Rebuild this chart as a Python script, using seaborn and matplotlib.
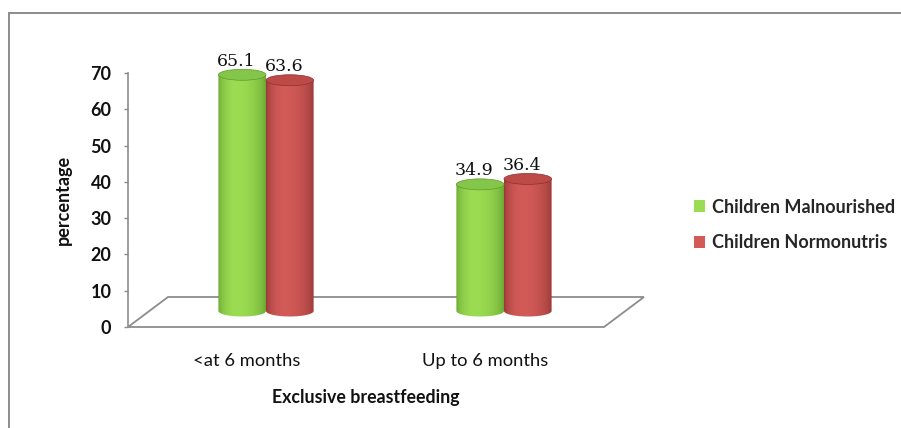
import numpy as np
import pandas as pd
import matplotlib
matplotlib.use("Agg")
import matplotlib.pyplot as plt
import seaborn as sns
from matplotlib.patches import Ellipse, Polygon, PathPatch, Patch
from matplotlib.path import Path
from matplotlib.colors import to_rgb
from matplotlib.lines import Line2D

# ---- data ----
categories = ["<at 6 months", "Up to 6 months"]
malnourished = [65.1, 34.9]
normonutris = [63.6, 36.4]
series_names = ["Children Malnourished", "Children Normonutris"]
y_ticks = [0, 10, 20, 30, 40, 50, 60, 70]

df = pd.DataFrame({
    "category": categories * 2,
    "value": malnourished + normonutris,
    "series": [series_names[0]] * len(categories) + [series_names[1]] * len(categories),
})

# ---- style ----
sns.set_theme(style="white")
plt.rcParams["font.family"] = ["Lato", "DejaVu Sans"]
TEXT = "#111111"
GRID = "#8c8c8c"
green_main, green_dark, green_top = "#9bdc52", "#5f9a2c", "#84c64a"
red_main, red_dark, red_top = "#d25a57", "#8a3230", "#bd4a47"

W, H = 901, 428
fig = plt.figure(figsize=(W / 100, H / 100), dpi=100)


def frac(left, top, w, h):
    return [left / W, 1 - (top + h) / H, w / W, h / H]


# front plane: carries the value axis and the floor outline
PL, PT, PW, PH = 128, 73, 476, 254
ax = fig.add_axes(frac(PL, PT, PW, PH))
ax.set_xlim(-0.5, 1.5)
ax.set_ylim(0, 70)
ax.set_facecolor("none")
for side in ("top", "right", "bottom"):
    ax.spines[side].set_visible(False)
ax.spines["left"].set_color(GRID)
ax.spines["left"].set_linewidth(1.2)
ax.set_yticks(y_ticks)
ax.set_yticklabels([str(t) for t in y_ticks], fontsize=13, fontweight="bold", color=TEXT)
ax.tick_params(axis="y", left=True, length=3, width=1, color=GRID, pad=9)
ax.set_xticks(range(len(categories)))
ax.set_xticklabels(categories, fontsize=13.2, color=TEXT)
ax.tick_params(axis="x", bottom=False, pad=13)
ax.set_xlabel("Exclusive breastfeeding", fontsize=12.8, fontweight="bold", color=TEXT, labelpad=14)
ax.set_ylabel("percentage", fontsize=13, fontweight="bold", color=TEXT, labelpad=13)

# floor of the 3-D plot (depth offset in pixels)
DEPTH_X, DEPTH_Y = 40, 30
dxf, dyf = DEPTH_X / PW, DEPTH_Y / PH
floor = Polygon([(0, 0), (1, 0), (1 + dxf, dyf), (dxf, dyf)], closed=True,
                transform=ax.transAxes, fill=False, edgecolor=GRID, linewidth=1.3,
                clip_on=False, zorder=1)
ax.add_patch(floor)

# bar plane: half way into the floor depth
BX, BY = 19, 16
axb = fig.add_axes(frac(PL + BX, PT - BY, PW, PH))
sns.barplot(data=df, x="category", y="value", hue="series",
            palette=[green_main, red_main], width=0.4, saturation=1,
            legend=False, ax=axb)
axb.set_xlim(-0.5, 1.5)
axb.set_ylim(0, 70)
axb.set_axis_off()
axb.patch.set_visible(False)

px_per_unit = PH / 70.0
ry = 5.5 / px_per_unit  # half height of the elliptical caps, in data units

shades = {
    to_rgb(green_main): (green_main, green_dark, green_top),
    to_rgb(red_main): (red_main, red_dark, red_top),
}


def shade_profile(n=200, peak=0.38):
    t = np.linspace(0, 1, n)
    s = np.where(t < peak,
                 np.sin(np.pi / 2 * t / peak) ** 0.55,
                 np.cos(np.pi / 2 * (t - peak) / (1 - peak)) ** 0.55)
    return 0.12 + 0.88 * s


profile = shade_profile()

for bar in list(axb.patches):
    x0, w, h = bar.get_x(), bar.get_width(), bar.get_height()
    if w == 0:
        continue
    fc = np.array(bar.get_facecolor()[:3])
    main, dark, top = shades[min(shades, key=lambda c: np.sum((np.array(c) - fc) ** 2))]
    cx, rx = x0 + w / 2, w / 2
    # cylinder body: straight sides with a rounded bottom
    t = np.linspace(np.pi, 2 * np.pi, 60)
    verts = [(x0, h), (x0, 0)] + list(zip(cx + rx * np.cos(t), ry * np.sin(t))) + [(x0 + w, h), (x0, h)]
    codes = [Path.MOVETO] + [Path.LINETO] * (len(verts) - 2) + [Path.CLOSEPOLY]
    body = PathPatch(Path(verts, codes), transform=axb.transData,
                     facecolor="none", edgecolor="none", clip_on=False)
    axb.add_patch(body)
    c_main, c_dark = np.array(to_rgb(main)), np.array(to_rgb(dark))
    grad = c_dark[None, :] + (c_main - c_dark)[None, :] * profile[:, None]
    img = axb.imshow(grad[None, :, :], extent=[x0, x0 + w, -ry, h], aspect="auto",
                     interpolation="bilinear", zorder=2)
    img.set_clip_box(fig.bbox)
    img.set_clip_path(body)
    cap = Ellipse((cx, h), width=w, height=2 * ry, facecolor=top,
                  edgecolor=dark, linewidth=0.5, zorder=3, clip_on=False)
    axb.add_patch(cap)
    bar.set_visible(False)
    axb.annotate(f"{h:.1f}", xy=(cx, h), xytext=(-6, 9), textcoords="offset pixels",
                 ha="center", va="baseline", fontsize=12.5, color=TEXT,
                 family=["DejaVu Serif"], zorder=4, annotation_clip=False)

axb.set_xlim(-0.5, 1.5)
axb.set_ylim(0, 70)

# legend
handles = [Patch(facecolor=green_main, edgecolor="none"), Patch(facecolor=red_main, edgecolor="none")]
fig.legend(handles, series_names, loc="center left", bbox_to_anchor=(694 / W, 1 - 225 / H),
           frameon=False, prop={"weight": "bold", "size": 13},
           handlelength=0.6, handleheight=0.6, handletextpad=0.4,
           labelspacing=1.05, borderpad=0, borderaxespad=0)

# outer chart border (top and left edges)
fig.add_artist(Line2D([9 / W, 1], [1 - 13 / H, 1 - 13 / H], color=GRID, linewidth=1.4,
                      transform=fig.transFigure))
fig.add_artist(Line2D([9 / W, 9 / W], [0, 1 - 13 / H], color=GRID, linewidth=1.4,
                      transform=fig.transFigure))

fig.savefig("out.png", dpi=100, facecolor="white")
